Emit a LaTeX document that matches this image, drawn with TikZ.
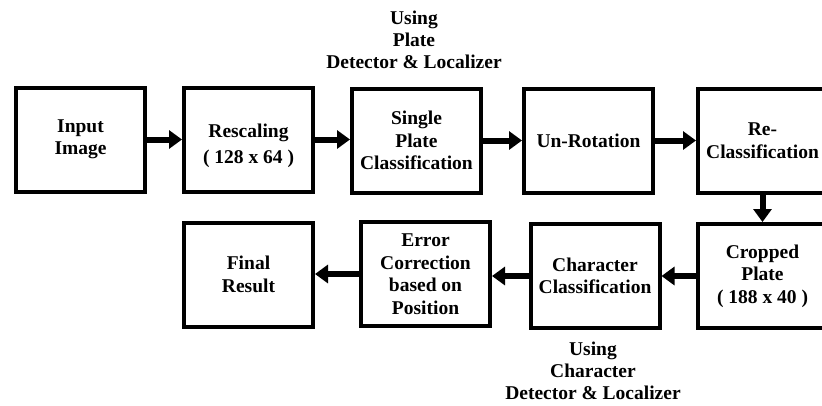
\documentclass[tikz,border=0pt]{standalone}
\usepackage{fontspec}
\setmainfont{Liberation Serif}
\usetikzlibrary{arrows.meta}
\tikzset{
  blk/.style={draw=black, line width=4pt, minimum width=129pt, minimum height=104pt,
    align=center, inner sep=2pt, font=\fontsize{19.5}{22.5}\selectfont\bfseries},
  lbl/.style={align=center, inner sep=0pt, font=\fontsize{19.5}{22}\selectfont\bfseries},
  flow/.style={line width=6pt, -{Triangle[length=13pt,width=18pt]}, shorten >=0pt}
}
\begin{document}
\begin{tikzpicture}[x=1pt,y=-1pt]
\useasboundingbox (0,0) rectangle (822,405);
\clip (0,0) rectangle (822,405);
\fill[white] (0,0) rectangle (822,405);
\node[blk] (inp) at (80.5,139.5) {Input\\Image};
\node[blk] (res) at (248.5,139.5) {};
\node[align=center, inner sep=0pt, font=\fontsize{19.5}{26}\selectfont\bfseries] (restxt) at (248.5,145.5) {Rescaling\\( 128 x 64 )};
\node[blk] (spc) at (416.5,140.5) {Single\\Plate\\Classification};
\node[blk] (unr) at (588.5,140.5) {Un-Rotation};
\node[blk] (rec) at (762.5,140.5) {Re-\\Classification};
\node[blk] (crp) at (762.5,276) {Cropped\\Plate\\( 188 x 40 )};
\node[blk] (chr) at (595,276) {Character\\Classification};
\node[blk] (err) at (425.5,274) {Error\\Correction\\based on\\Position};
\node[blk] (fin) at (248.5,274.5) {Final\\Result};
\node[lbl] (top) at (414,40) {Using\\Plate\\Detector \& Localizer};
\node[lbl] (bot) at (593,371) {Using\\Character\\Detector \& Localizer};
\draw[flow] (inp.east) -- (res.west |- inp.east);
\draw[flow] (res.east) -- (spc.west |- res.east);
\draw[flow] (spc.east) -- (unr.west |- spc.east);
\draw[flow] (unr.east) -- (rec.west |- unr.east);
\draw[flow] (rec.south) -- (crp.north);
\draw[flow] (crp.west) -- (chr.east |- crp.west);
\draw[flow] (chr.west) -- (err.east |- chr.west);
\draw[flow] (err.west) -- (fin.east |- err.west);
\end{tikzpicture}
\end{document}
